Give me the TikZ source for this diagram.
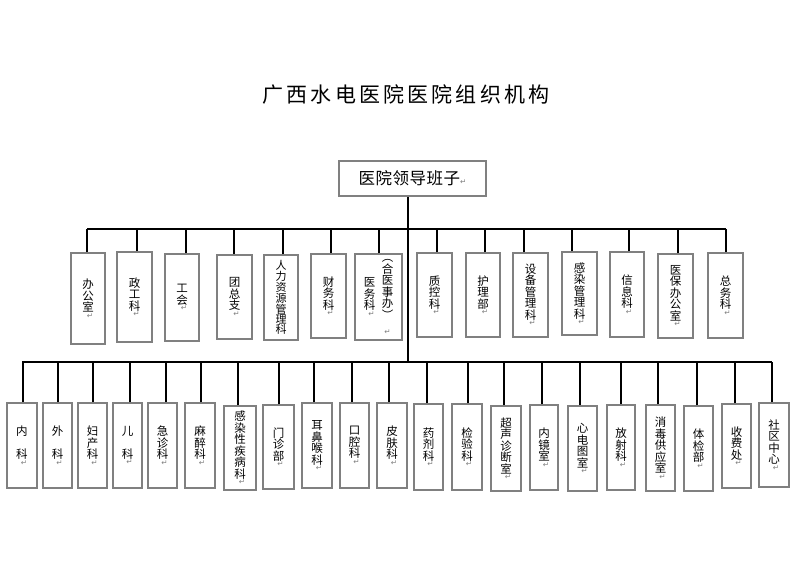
\documentclass[tikz,border=0pt]{standalone}
\usepackage{fontspec}
\setmainfont{Noto Sans CJK SC}
\newfontfamily\symfont{DejaVu Sans}
% paragraph mark as printed after each label
\newcommand{\ret}{\\[-5pt]{\symfont\fontsize{7.5}{7.5}\selectfont\color{gray}\hspace{4pt}↵}}
\newcommand{\retx}{{\symfont\fontsize{7.5}{7.5}\selectfont\color{gray}↵}}
\newcommand{\vcol}[1]{\parbox[c]{12pt}{\centering #1}}
\tikzset{
    dept/.style = {draw=black!50, line width=2, inner sep=0, minimum width=35, minimum height=85,
                   align=center, font=\fontsize{11.5}{11.5}\selectfont},
    unit/.style = {dept, minimum width=30},
    link/.style = {line width=1.6},
}

\begin{document}
\begin{tikzpicture}[x=1pt, y=-1pt]
    \useasboundingbox (0,0) rectangle (800,582);
    \node (title) at (406,95) {\fontsize{21}{21}\selectfont\addfontfeature{LetterSpace=15}广西水电医院医院组织机构};
    \node[dept, minimum width=147, minimum height=35, font=\fontsize{16.5}{16.5}\selectfont] (lead) at (412.5,178.5)
        {\addfontfeature{LetterSpace=3}医院领导班子\retx};

    \coordinate (topL) at (87,229);
    \coordinate (topR) at (726,229);
    \coordinate (botL) at (22,362);
    \coordinate (botR) at (772,362);
    \draw[link] (topL) -- (topR); % upper bus
    \draw[link] (botL) -- (botR); % lower bus
    \draw[link] ([xshift=-4.5]lead.south) -- ([xshift=-4.5]lead.south |- botL); % trunk

    % functional offices
    \node[dept, minimum width=34, minimum height=91] (bgs) at (88,298.5) {办\\公\\室\ret};
    \node[dept, minimum height=90] (zgk) at (134.5,297) {政\\工\\科\ret};
    \node[dept, minimum width=34, minimum height=87] (gh) at (182,297.5) {工\\会\ret};
    \node[dept, minimum height=84] (tzz) at (234.5,297) {团\\总\\支\ret};
    \node[dept, minimum width=34, font=\fontsize{11}{10}\selectfont] (rlzy) at (281,297.5) {人\\力\\资\\源\\管\\理\\科};
    \node[dept, minimum height=84] (cwk) at (328.5,296) {财\\务\\科\ret};
    \node[dept, minimum width=47, minimum height=86] (ywk) at (378.5,297)
        {\vcol{医\\务\\科\ret}\hspace{6pt}\vcol{︵\\合\\医\\事\\办\\︶\\[4pt]\retx}};
    \node[dept, minimum height=84] (zkk) at (434.5,295) {质\\控\\科\ret};
    \node[dept, minimum width=34, minimum height=84] (hlb) at (483,295) {护\\理\\部\ret};
    \node[dept, minimum height=84] (sbk) at (530.5,295) {设\\备\\管\\理\\科\ret};
    \node[dept, minimum height=83] (grk) at (579.5,293.5) {感\\染\\管\\理\\科\ret};
    \node[dept, minimum width=34] (xxk) at (627,294.5) {信\\息\\科\ret};
    \node[dept, minimum height=84] (ybk) at (675.5,296) {医\\保\\办\\公\\室\ret};
    \node[dept] (zwk) at (725.5,295.5) {总\\务\\科\ret};

    \draw[link] ([xshift=-1]bgs.north) -- ([xshift=-1]bgs.north |- topL);
    \draw[link] ([xshift=2.5]zgk.north) -- ([xshift=2.5]zgk.north |- topL);
    \draw[link] ([xshift=4]gh.north) -- ([xshift=4]gh.north |- topL);
    \draw[link] ([xshift=-0.5]tzz.north) -- ([xshift=-0.5]tzz.north |- topL);
    \draw[link] ([xshift=2]rlzy.north) -- ([xshift=2]rlzy.north |- topL);
    \draw[link] ([xshift=2.5]cwk.north) -- ([xshift=2.5]cwk.north |- topL);
    \draw[link] ([xshift=0.5]ywk.north) -- ([xshift=0.5]ywk.north |- topL);
    \draw[link] ([xshift=2.5]zkk.north) -- ([xshift=2.5]zkk.north |- topL);
    \draw[link] ([xshift=2]hlb.north) -- ([xshift=2]hlb.north |- topL);
    \draw[link] ([xshift=-6.5]sbk.north) -- ([xshift=-6.5]sbk.north |- topL);
    \draw[link] ([xshift=-7.5]grk.north) -- ([xshift=-7.5]grk.north |- topL);
    \draw[link] ([xshift=2]xxk.north) -- ([xshift=2]xxk.north |- topL);
    \draw[link] ([xshift=2.5]ybk.north) -- ([xshift=2.5]ybk.north |- topL);
    \draw[link] ([xshift=0.5]zwk.north) -- ([xshift=0.5]zwk.north |- topL);

    % clinical and medical-technical units
    \node[unit] (nk) at (22,445.5) {内\\[11.5pt]科\ret};
    \node[unit, minimum width=29] (wk) at (57.5,445.5) {外\\[11.5pt]科\ret};
    \node[unit, minimum width=29] (fck) at (92.5,445.5) {妇\\产\\科\ret};
    \node[unit, minimum width=29] (ek) at (127.5,445.5) {儿\\[11.5pt]科\ret};
    \node[unit, minimum width=29] (jzk) at (162.5,445.5) {急\\诊\\科\ret};
    \node[unit] (mzk) at (200,445.5) {麻\\醉\\科\ret};
    \node[unit, minimum width=32, minimum height=84] (grxk) at (240,448) {感\\染\\性\\疾\\病\\科\ret};
    \node[unit, minimum width=31, minimum height=84] (mzb) at (278.5,447) {门\\诊\\部\ret};
    \node[unit] (ebhk) at (317,445.5) {耳\\鼻\\喉\\科\ret};
    \node[unit, minimum width=29] (kqk) at (354.5,445.5) {口\\腔\\科\ret};
    \node[unit] (pfk) at (392,445.5) {皮\\肤\\科\ret};
    \node[unit, minimum width=29, minimum height=86] (yjk) at (428.5,447) {药\\剂\\科\ret};
    \node[unit, minimum height=86] (jyk) at (467,447) {检\\验\\科\ret};
    \node[unit] (csk) at (506,448.5) {超\\声\\诊\\断\\室\ret};
    \node[unit, minimum width=28] (njs) at (544,447.5) {内\\镜\\室\ret};
    \node[unit, minimum width=29] (xdt) at (582.5,448.5) {心\\电\\图\\室\ret};
    \node[unit, minimum width=28] (fsk) at (621,447.5) {放\\射\\科\ret};
    \node[unit, minimum width=29, minimum height=86] (xdgy) at (660.5,448) {消\\毒\\供\\应\\室\ret};
    \node[unit, minimum width=29] (tjb) at (698.5,448.5) {体\\检\\部\ret};
    \node[unit, minimum width=29, minimum height=84] (sfc) at (736.5,446) {收\\费\\处\ret};
    \node[unit, minimum height=84] (sqzx) at (774,445) {社\\区\\中\\心\ret};

    \draw[link] ([xshift=1]nk.north) -- ([xshift=1]nk.north |- botL);
    \draw[link] ([xshift=0.5]wk.north) -- ([xshift=0.5]wk.north |- botL);
    \draw[link] ([xshift=0.5]fck.north) -- ([xshift=0.5]fck.north |- botL);
    \draw[link] ([xshift=2.5]ek.north) -- ([xshift=2.5]ek.north |- botL);
    \draw[link] ([xshift=3.5]jzk.north) -- ([xshift=3.5]jzk.north |- botL);
    \draw[link] ([xshift=1]mzk.north) -- ([xshift=1]mzk.north |- botL);
    \draw[link] ([xshift=-2]grxk.north) -- ([xshift=-2]grxk.north |- botL);
    \draw[link] ([xshift=0.5]mzb.north) -- ([xshift=0.5]mzb.north |- botL);
    \draw[link] ([xshift=-3]ebhk.north) -- ([xshift=-3]ebhk.north |- botL);
    \draw[link] ([xshift=-2.5]kqk.north) -- ([xshift=-2.5]kqk.north |- botL);
    \draw[link] ([xshift=-3]pfk.north) -- ([xshift=-3]pfk.north |- botL);
    \draw[link] ([xshift=-1.5]yjk.north) -- ([xshift=-1.5]yjk.north |- botL);
    \draw[link] ([xshift=1]jyk.north) -- ([xshift=1]jyk.north |- botL);
    \draw[link] ([xshift=-2]csk.north) -- ([xshift=-2]csk.north |- botL);
    \draw[link] ([xshift=-2]njs.north) -- ([xshift=-2]njs.north |- botL);
    \draw[link] ([xshift=-2.5]xdt.north) -- ([xshift=-2.5]xdt.north |- botL);
    \draw[link] (fsk.north) -- (fsk.north |- botL);
    \draw[link] ([xshift=-2.5]xdgy.north) -- ([xshift=-2.5]xdgy.north |- botL);
    \draw[link] ([xshift=-1.5]tjb.north) -- ([xshift=-1.5]tjb.north |- botL);
    \draw[link] ([xshift=-1.5]sfc.north) -- ([xshift=-1.5]sfc.north |- botL);
    \draw[link] ([xshift=-2]sqzx.north) -- ([xshift=-2]sqzx.north |- botL);
\end{tikzpicture}
\end{document}
